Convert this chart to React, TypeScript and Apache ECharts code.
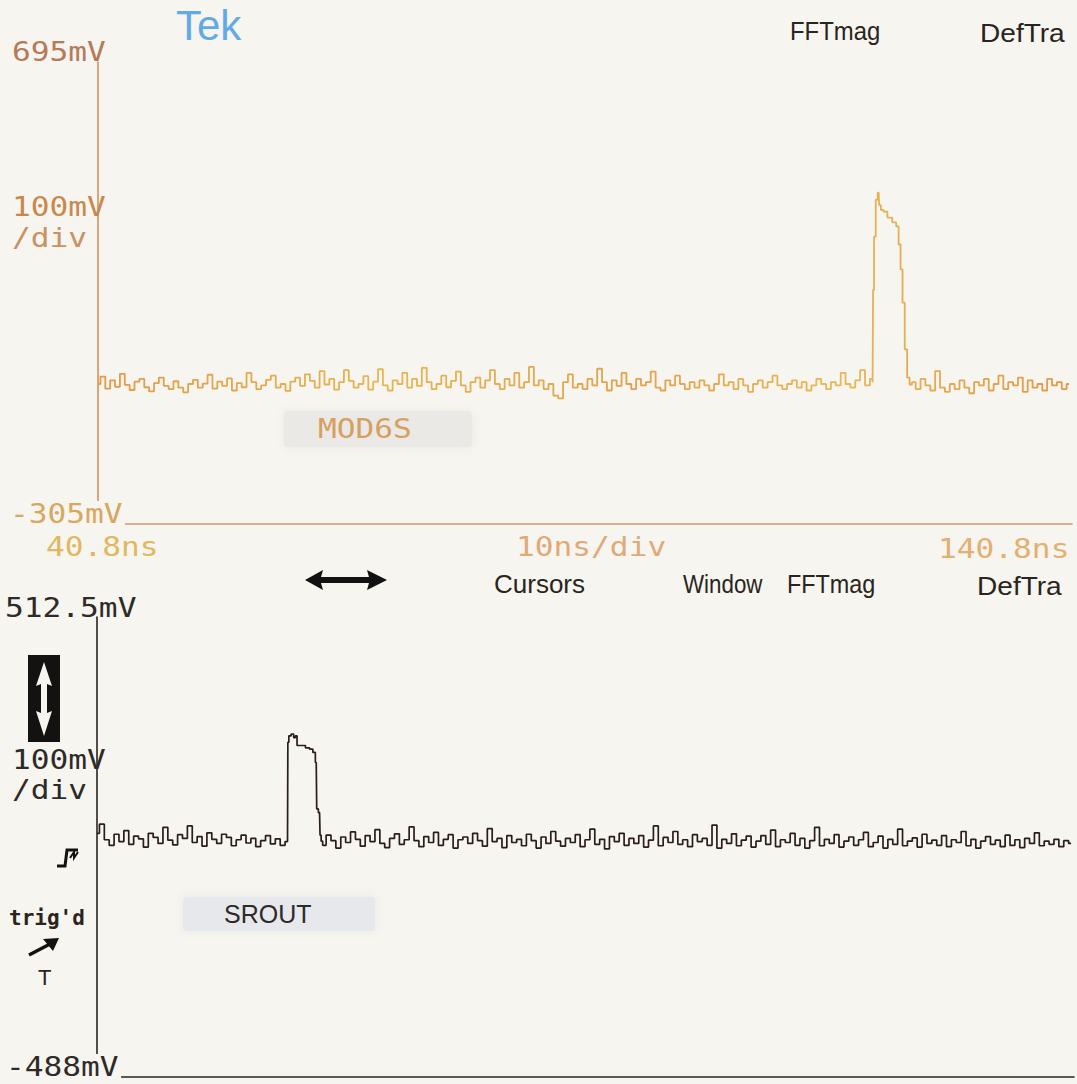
import React, { useEffect, useRef } from "react";
import * as echarts from "echarts";

// ---- axes ----
const TIME_MIN = 40.8;
const TIME_MAX = 140.8;
const SAMPLE_STEP = 0.5; // ns between recorded samples

const TOP_MIN = -305;
const TOP_MAX = 695;
const BOT_MIN = -488;
const BOT_MAX = 512.5;

// ---- top trace (MOD6S, mV) ----
const topPreStart = 40.8;
const topPreNoise = [
  -2, 14, -12, 6, -8, 20, -4, -15, 3, 9,
  -9, -18, 0, 12, -6, -13, 4, -10, -20, -2,
  7, -10, -1, 18, -12, 3, -6, 10, -16, 0,
  -9, 22, 2, -13, -5, 7, 16, -10, -2, -17,
  3, 12, -6, 19, 5, -10, 26, -3, 9, -14,
  2, 28, 5, -10, -2, 15, -14, 3, 30, -5,
  -16, 6, -2, 22, -10, 9, -6, 33, 2, -13,
  -2, 16, -9, 5, 25, -5, -19, 2, 12, -10,
  6, 28, -2, -13, 9, -5, 22, -10, 2, 35,
  -5, 6, -13, -2, -27, -33, 2, 19, -10, -2,
  -13, 9, -5, 31, 2, -16, 6, -6, 22, -2,
  -13, 9, -5, 2, 25, -10, -16, 6, -5, 16,
  -2, -13, 2, -10, 6, -5, -16, -2, 19, -5,
  2, -13, 9, -5, -19, -2, 6, -10, 2, 16,
  -5, -13, -2, 6, -10, 2, -16, -5, 9, -2,
  -13, 2, -5, 22, -2, -10, 6, 28, -5, 9,
];
const topPulse: [number, number][] = [
  [120.35, 2], [120.4, 202], [120.55, 317], [120.75, 397], [120.95, 412],
  [121.05, 385], [121.3, 375], [121.6, 371], [122.1, 358], [122.6, 348],
  [122.9, 339], [123.1, 300], [123.3, 246], [123.5, 174], [123.75, 73],
  [124.0, 12], [124.25, -3],
];
const topPostStart = 124.5;
const topPostNoise = [
  2, -13, 9, -5, -16, 26, -10, -19, -2, -13,
  6, -10, -22, 2, -5, 9, -16, -2, 16, -13,
  2, -5, 12, -19, 6, -10, -2, -16, 9, -5,
  2, -13, -2,
];

// ---- bottom trace (SROUT, mV) ----
const botPreStart = 40.8;
const botPreNoise = [
  42, 62, 28, 16, 40, 24, 48, 18, 36, 30,
  12, 42, 33, 20, 55, 27, 17, 39, 31, 58,
  22, 35, 14, 43, 29, 20, 40, 33, 15, 28,
  38, 21, 31, 13, 26, 37, 19, 30, 16, 24,
];
const botPulse: [number, number][] = [
  [60.37, 240], [60.5, 254], [60.84, 258], [61.02, 250], [61.19, 254],
  [61.36, 233], [61.88, 233], [62.39, 228], [62.73, 225], [63.06, 218],
  [63.24, 196], [63.34, 95], [63.58, 87], [63.68, 38], [63.8, 25],
];
const botPostStart = 64.0;
const botPostNoise = [
  16, 38, 26, 10, 34, 22, 45, 29, 14, 37,
  24, 50, 20, 11, 31, 41, 18, 28, 56, 26,
  13, 35, 22, 44, 16, 29, 39, 10, 28, 34,
  20, 42, 26, 14, 52, 24, 31, 11, 37, 22,
  29, 15, 40, 26, 10, 34, 20, 46, 25, 14,
  31, 22, 39, 13, 28, 51, 18, 29, 8, 35,
  24, 42, 16, 31, 20, 37, 12, 27, 58, 15,
  33, 22, 46, 18, 28, 13, 39, 24, 31, 16,
  60, 10, 29, 20, 41, 15, 27, 36, 12, 25,
  37, 18, 49, 13, 28, 22, 42, 16, 31, 10,
  26, 55, 15, 29, 20, 39, 12, 25, 34, 16,
  28, 44, 13, 22, 36, 10, 29, 18, 51, 15,
  25, 32, 12, 40, 20, 27, 16, 37, 13, 28,
  22, 46, 15, 29, 10, 25, 35, 18, 27, 13,
  38, 16, 28, 11, 31, 20, 43, 15, 25, 18,
  29, 13, 26, 20,
];

// ---- labels ----
const topLabels = { max: "695mV", scale: "100mV", per: "/div", min: "-305mV" };
const timeLabels = { left: "40.8ns", mid: "10ns/div", right: "140.8ns" };
const botLabels = { max: "512.5mV", scale: "100mV", per: "/div", min: "-488mV" };
const menuTop = ["FFTmag", "DefTra"];
const menuBottom = ["Cursors", "Window", "FFTmag", "DefTra"];

const BG = "#f6f5ef";
const MONO = "'DejaVu Sans Mono', monospace";
const SANS = "'Liberation Sans', 'DejaVu Sans', sans-serif";

function sampled(start: number, values: number[]): [number, number][] {
  return values.map((v, i) => [Number((start + i * SAMPLE_STEP).toFixed(2)), v]);
}

function txt(text: string, x: number, y: number, fill: string, fontSize: number, fontFamily: string, extra: any = {}) {
  return {
    type: "text",
    x,
    y,
    z: 20,
    silent: true,
    scaleX: extra.scaleX ?? 1,
    style: {
      text,
      fill,
      fontSize,
      fontFamily,
      fontWeight: extra.fontWeight ?? "normal",
      verticalAlign: "middle",
      align: "left",
      backgroundColor: extra.bg,
      padding: extra.bg ? [0, 2, 0, 0] : undefined,
    },
  };
}

const mono = (text: string, x: number, y: number, fill: string) =>
  txt(text, x, y, fill, 26, MONO, { scaleX: 1.2 });

export default function App() {
  const ref = useRef<HTMLDivElement>(null);

  useEffect(() => {
    if (!ref.current) return;
    const chart = echarts.init(ref.current, undefined, { renderer: "svg" });

    const topData = [...sampled(topPreStart, topPreNoise), ...topPulse, ...sampled(topPostStart, topPostNoise)];
    const botData = [...sampled(botPreStart, botPreNoise), ...botPulse, ...sampled(botPostStart, botPostNoise)];

    const dark = "#2a2420";

    const xAxisBase = (gridIndex: number, color: string) => ({
      type: "value",
      gridIndex,
      min: TIME_MIN,
      max: TIME_MAX,
      axisLine: { show: true, onZero: false, lineStyle: { color, width: 1.6 } },
      axisTick: { show: false },
      axisLabel: { show: false },
      splitLine: { show: false },
    });
    const yAxisBase = (gridIndex: number, min: number, max: number, color: string) => ({
      type: "value",
      gridIndex,
      min,
      max,
      axisLine: { show: true, onZero: false, lineStyle: { color, width: 1.6 } },
      axisTick: { show: false },
      axisLabel: { show: false },
      splitLine: { show: false },
    });

    const graphic: any[] = [
      txt("Tek", 176, 25, "#62aae6", 42, SANS),
      mono(topLabels.max, 12, 52, "#b47a5a"),
      txt(menuTop[0], 790, 31, dark, 26, SANS, { scaleX: 0.92 }),
      txt(menuTop[1], 980, 33, dark, 26, SANS, { scaleX: 1.08 }),
      mono(topLabels.scale, 12, 207, "#c8884c"),
      mono(topLabels.per, 12, 238, "#c99262"),
      {
        type: "rect",
        z: 15,
        silent: true,
        shape: { x: 284, y: 411, width: 188, height: 36, r: 4 },
        style: { fill: "#eae9e5", shadowBlur: 10, shadowColor: "#eae9e5" },
      },
      mono("MOD6S", 318, 429, "#d6a062"),
      txt(topLabels.min, 10, 514, "#d8a860", 26, MONO, { scaleX: 1.2, bg: BG }),
      mono(timeLabels.left, 46, 547, "#e0b860"),
      mono(timeLabels.mid, 516, 547, "#e0aa78"),
      mono(timeLabels.right, 938, 549, "#e2b070"),
      {
        type: "polygon",
        z: 20,
        silent: true,
        shape: {
          points: [
            [305, 580], [323, 570], [321, 577], [369, 577], [367, 570],
            [387, 580], [367, 590], [369, 583], [321, 583], [323, 590],
          ],
        },
        style: { fill: "#111" },
      },
      txt(menuBottom[0], 494, 584, dark, 26, SANS, { scaleX: 1.0 }),
      txt(menuBottom[1], 683, 584, dark, 26, SANS, { scaleX: 0.86 }),
      txt(menuBottom[2], 787, 584, dark, 26, SANS, { scaleX: 0.9 }),
      txt(menuBottom[3], 977, 586, dark, 26, SANS, { scaleX: 1.08 }),
      mono(botLabels.max, 5, 608, "#2e2a28"),
      {
        type: "rect",
        z: 20,
        silent: true,
        shape: { x: 28, y: 655, width: 32, height: 87 },
        style: { fill: "#141210" },
      },
      {
        type: "polygon",
        z: 21,
        silent: true,
        shape: {
          points: [
            [44, 662], [36, 686], [41, 684], [41, 713], [36, 711],
            [44, 736], [52, 711], [47, 713], [47, 684], [52, 686],
          ],
        },
        style: { fill: BG },
      },
      mono(botLabels.scale, 12, 760, "#2e2a28"),
      mono(botLabels.per, 12, 790, "#2e2a28"),
      {
        type: "polyline",
        z: 20,
        silent: true,
        shape: { points: [[57, 866], [65, 866], [67, 850], [78, 850]] },
        style: { stroke: "#141210", lineWidth: 3, fill: null },
      },
      {
        type: "polyline",
        z: 20,
        silent: true,
        shape: { points: [[70, 858], [74, 852], [74, 858], [78, 852]] },
        style: { stroke: "#141210", lineWidth: 2, fill: null },
      },
      txt("trig'd", 9, 918, dark, 21, MONO, { fontWeight: "bold" }),
      {
        type: "line",
        z: 20,
        silent: true,
        shape: { x1: 29, y1: 955, x2: 50, y2: 944 },
        style: { stroke: "#141210", lineWidth: 3.5 },
      },
      {
        type: "polygon",
        z: 20,
        silent: true,
        shape: { points: [[59, 938], [43, 939], [53, 951]] },
        style: { fill: "#141210" },
      },
      txt("T", 38, 977, dark, 22, SANS),
      {
        type: "rect",
        z: 15,
        silent: true,
        shape: { x: 183, y: 897, width: 192, height: 34, r: 4 },
        style: { fill: "#e7e8eb", shadowBlur: 10, shadowColor: "#e7e8eb" },
      },
      txt("SROUT", 224, 914, "#2e2a28", 25, SANS),
      txt(botLabels.min, 6, 1067, "#2e2a28", 26, MONO, { scaleX: 1.2, bg: BG }),
    ];

    chart.setOption({
      animation: false,
      backgroundColor: BG,
      grid: [
        { left: 98, right: 5, top: 62, height: 462 },
        { left: 97, right: 3, top: 617, height: 460 },
      ],
      xAxis: [xAxisBase(0, "#d6946a"), xAxisBase(1, "#2a2420")],
      yAxis: [yAxisBase(0, TOP_MIN, TOP_MAX, "#d4925e"), yAxisBase(1, BOT_MIN, BOT_MAX, "#2a2420")],
      series: [
        {
          type: "line",
          xAxisIndex: 0,
          yAxisIndex: 0,
          data: topData,
          step: "middle",
          symbol: "none",
          silent: true,
          lineStyle: {
            width: 1.8,
            color: {
              type: "linear",
              x: 0,
              y: 0,
              x2: 1,
              y2: 0,
              colorStops: [
                { offset: 0, color: "#e29a4a" },
                { offset: 0.3, color: "#e6b652" },
                { offset: 0.55, color: "#e3a04c" },
                { offset: 0.75, color: "#e8b858" },
                { offset: 1, color: "#e0984a" },
              ],
            },
          },
        },
        {
          type: "line",
          xAxisIndex: 1,
          yAxisIndex: 1,
          data: botData,
          step: "middle",
          symbol: "none",
          silent: true,
          lineStyle: { color: "#2b1d1d", width: 1.7 },
        },
      ],
      graphic,
    });

    return () => chart.dispose();
  }, []);

  return (
    <div
      ref={ref}
      style={{ position: "fixed", left: 0, top: 0, width: 1077, height: 1084, background: BG }}
    />
  );
}
